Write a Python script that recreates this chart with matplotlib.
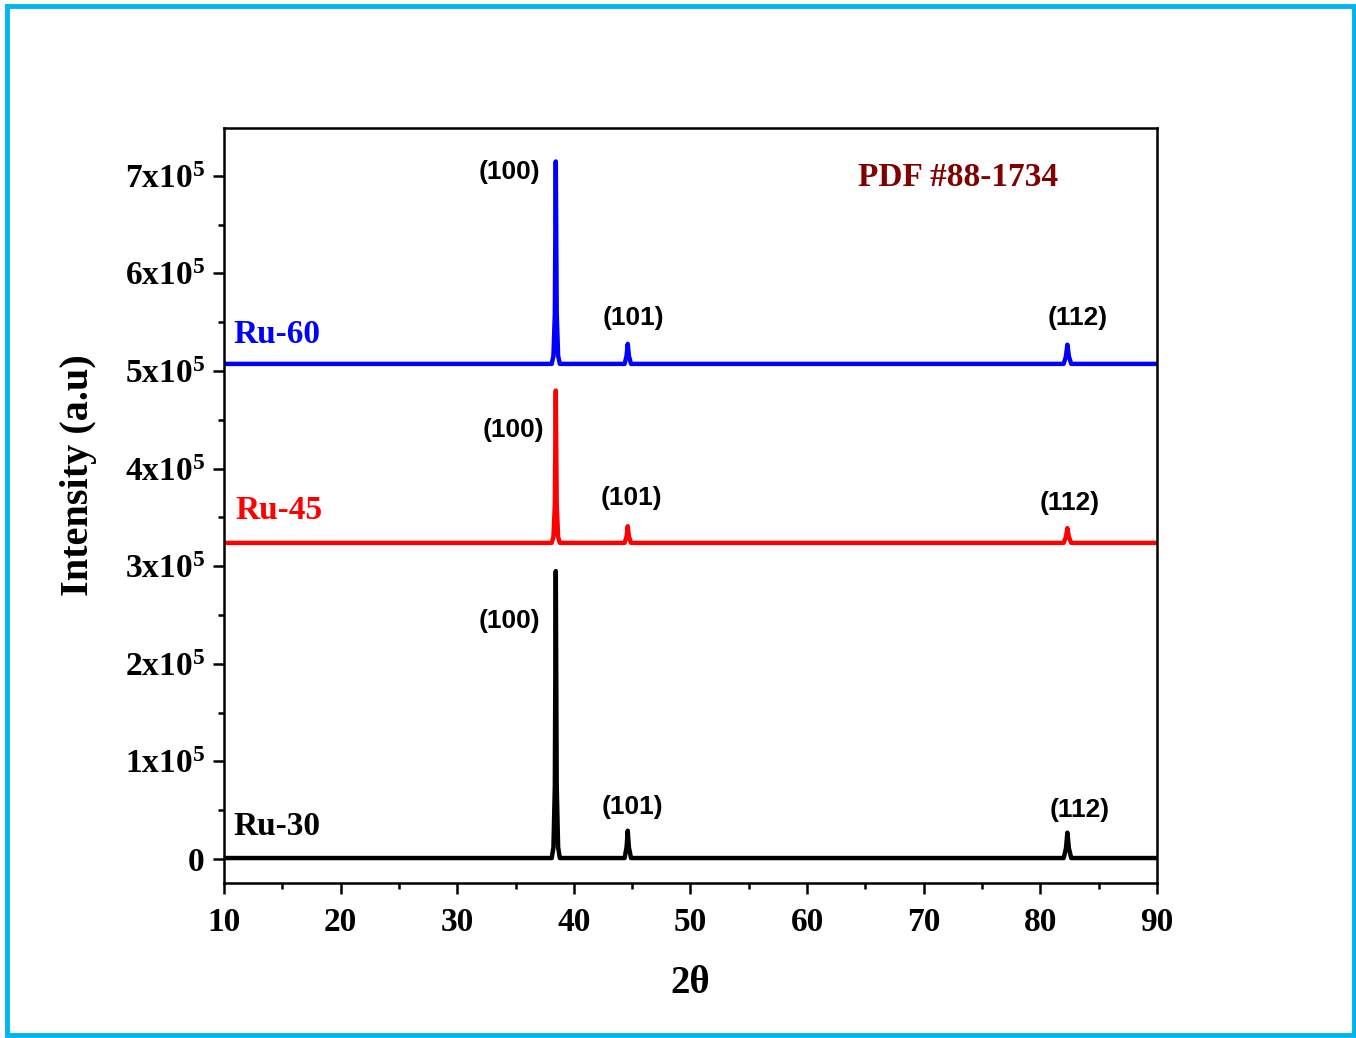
import numpy as np
import matplotlib
matplotlib.use('Agg')
import matplotlib.pyplot as plt
from matplotlib.patches import Rectangle
from matplotlib.ticker import MultipleLocator, FuncFormatter

plt.rcParams['font.family'] = 'Liberation Serif'
plt.rcParams['font.weight'] = 'bold'
plt.rcParams['mathtext.fontset'] = 'custom'
plt.rcParams['mathtext.rm'] = 'Liberation Serif:bold'
plt.rcParams['mathtext.bf'] = 'Liberation Serif:bold'

# 2theta sampling shared by the three patterns (baseline + 3 Ru reflections)
two_theta = [10.0, 38.1, 38.25, 38.37, 38.45, 38.53, 38.65, 38.8,
             44.35, 44.52, 44.62, 44.72, 44.9,
             82.0, 82.2, 82.32, 82.45, 82.65, 90.0]

ru30 = [1000, 1000, 12000, 75000, 295000, 75000, 12000, 1000,
        1000, 12000, 29000, 12000, 1000,
        1000, 11000, 27000, 11000, 1000, 1000]
ru45 = [323900, 323900, 330000, 363000, 480000, 363000, 330000, 323900,
        323900, 330500, 341000, 330500, 323900,
        323900, 330000, 339000, 330000, 323900, 323900]
ru60 = [507300, 507300, 515500, 559000, 714700, 559000, 515500, 507300,
        507300, 515500, 527800, 515500, 507300,
        507300, 515000, 527000, 515000, 507300, 507300]

samples = ['Ru-30', 'Ru-45', 'Ru-60']
colors = ['black', 'red', 'blue']
hkl = ['(100)', '(101)', '(112)']

fig = plt.figure(figsize=(13.56, 10.38), dpi=100)
ax = fig.add_axes([0.1652, 0.1493, 0.688, 0.7274])

for y, c in zip([ru30, ru45, ru60], colors):
    ax.plot(two_theta, y, color=c, lw=3.2, solid_joinstyle='round')

# sample names on the left
name_pos = [(10.8, 33800), (11.0, 356700), (10.8, 537000)]
for s, c, (x, y) in zip(samples, colors, name_pos):
    ax.text(x, y, s, color=c, fontsize=24, fontweight='bold', ha='left', va='center')

# miller indices above each peak
hkl_pos = [
    [(34.5, 244000), (45.05, 53300), (83.4, 50200)],
    [(34.8, 439700), (44.9, 370000), (82.55, 364900)],
    [(34.5, 704000), (45.15, 554500), (83.2, 554500)],
]
for row in hkl_pos:
    for lab, (x, y) in zip(hkl, row):
        ax.text(x, y, lab, fontsize=19, fontweight='bold', family='Liberation Sans',
                ha='center', va='center')

ax.text(64.4, 698000, 'PDF #88-1734', color='#800000', fontsize=24,
        fontweight='bold', ha='left', va='center')

ax.set_xlim(10, 90)
ax.set_ylim(-24600, 749000)
ax.xaxis.set_major_locator(MultipleLocator(10))
ax.xaxis.set_minor_locator(MultipleLocator(5))
ax.yaxis.set_major_locator(MultipleLocator(100000))
ax.yaxis.set_minor_locator(MultipleLocator(50000))


def yfmt(v, pos):
    n = int(round(v / 100000))
    if n == 0:
        return '0'
    return r'$\mathbf{%dx10^{5}}$' % n


ax.yaxis.set_major_formatter(FuncFormatter(yfmt))
ax.tick_params(which='major', direction='out', length=8, width=1.8, labelsize=24, pad=6)
ax.tick_params(axis='x', which='major', pad=9)
ax.tick_params(which='minor', direction='out', length=4, width=1.8)
for sp in ax.spines.values():
    sp.set_linewidth(1.8)
for lbl in ax.get_xticklabels() + ax.get_yticklabels():
    lbl.set_fontweight('bold')

ax.set_xlabel('2θ', fontsize=28, fontweight='bold')
ax.set_ylabel('Intensity (a.u)', fontsize=29, fontweight='bold')
ax.xaxis.set_label_coords(0.5, -0.108)
ax.yaxis.set_label_coords(-0.136, 0.54)

fig.add_artist(Rectangle((0.0048, 0.0029), 0.9937, 0.9913, transform=fig.transFigure,
                         fill=False, ec='#00b4f0', lw=3.5))

fig.savefig('out.png', dpi=100)
